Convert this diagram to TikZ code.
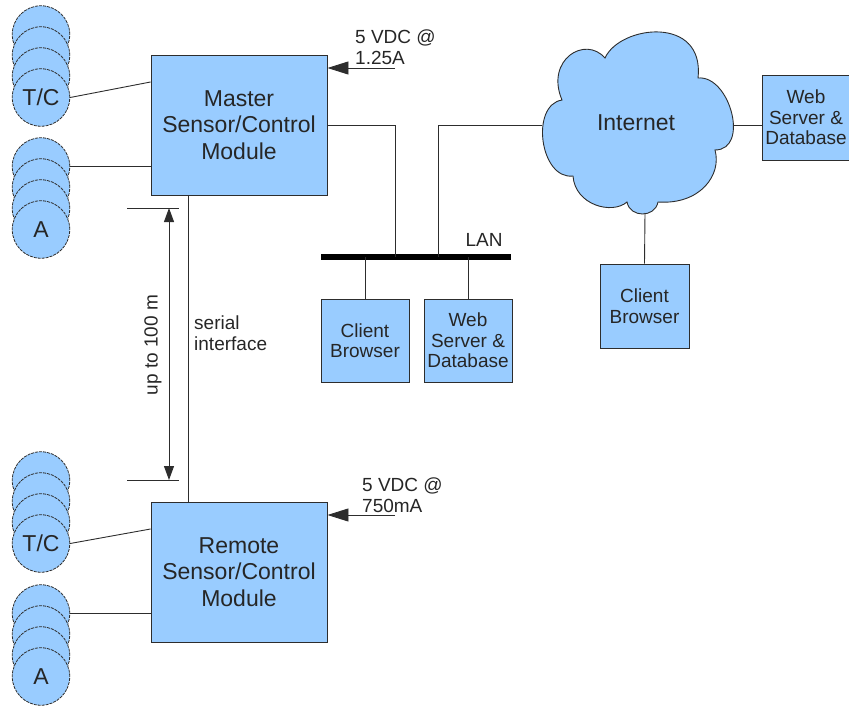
\documentclass[tikz,border=0pt]{standalone}
\usepackage{fontspec}
\setmainfont{Liberation Sans}
\usetikzlibrary{arrows.meta,calc}
\definecolor{fillblue}{RGB}{153,204,255}
\definecolor{linegray}{RGB}{45,45,45}
\begin{document}
\begin{tikzpicture}[x=1pt,y=-1pt,
  box/.style={draw=linegray, fill=fillblue, line width=0.9pt, inner sep=0pt, align=center, text=black!85},
  disk/.style={circle, draw=linegray, fill=fillblue, line width=0.8pt, dash pattern=on 3pt off 1pt, minimum size=57.5pt, inner sep=0pt, text=black!85, font=\fontsize{23}{26}\selectfont},
  wire/.style={draw=linegray, line width=0.9pt},
  big/.style={font=\fontsize{23}{26.5}\selectfont},
  small/.style={font=\fontsize{19}{20.5}\selectfont},
  lbl/.style={text=black!85, inner sep=0pt},
  pwtip/.style={-{Triangle[length=21pt,width=13pt]}},
  dimtip/.style={{Triangle[length=14pt,width=10pt]}-{Triangle[length=14pt,width=10pt]}}
]
\useasboundingbox (0,0) rectangle (849,706);

% ---- sensor stacks ----
\node[disk] (tc1-1) at (41,34.5) {};
\node[disk] (tc1-2) at (41,55.5) {};
\node[disk] (tc1-3) at (41,76.5) {};
\node[disk] (tc1-4) at (41,97.5) {T/C};
\node[disk] (a1-1) at (41,166.5) {};
\node[disk] (a1-2) at (41,187.5) {};
\node[disk] (a1-3) at (41,208.5) {};
\node[disk] (a1-4) at (41,229.5) {A};
\node[disk] (tc2-1) at (41,480.5) {};
\node[disk] (tc2-2) at (41,501.5) {};
\node[disk] (tc2-3) at (41,522.5) {};
\node[disk] (tc2-4) at (41,543.5) {T/C};
\node[disk] (a2-1) at (41,613.5) {};
\node[disk] (a2-2) at (41,634.5) {};
\node[disk] (a2-3) at (41,655.5) {};
\node[disk] (a2-4) at (41,676.5) {A};

% ---- modules ----
\node[box, big, minimum width=176pt, minimum height=140pt] (master) at (239,125) {Master\\Sensor/Control\\Module};
\node[box, big, minimum width=176pt, minimum height=140pt] (remote) at (239,572) {Remote\\Sensor/Control\\Module};

% ---- LAN boxes ----
\node[box, small, minimum width=88pt, minimum height=83pt] (cb1) at (365,340.5) {Client\\Browser};
\node[box, small, minimum width=88pt, minimum height=83pt] (ws1) at (468,340.5) {Web\\Server \&\\Database};
\node[box, small, minimum width=89pt, minimum height=84pt] (cb2) at (644.5,306) {Client\\Browser};
\node[box, small, minimum width=88pt, minimum height=85pt] (ws2) at (806,117.5) {Web\\Server \&\\Database};

% ---- cloud ----
\path[draw=linegray, fill=fillblue, line width=0.9pt]
  (562,100) .. controls (545,60) and (585,35) .. (605,58)
  .. controls (620,25) and (705,15) .. (698,78)
  .. controls (730,75) and (750,150) .. (715,150)
  .. controls (722,175) and (700,205) .. (658,202)
  .. controls (655,218) and (630,218) .. (627,202)
  .. controls (612,215) and (575,205) .. (573,176)
  .. controls (540,180) and (530,105) .. cycle;
\node[lbl, big] (inet) at (636,123) {Internet};
\coordinate (cloudL) at (542,125);
\coordinate (cloudR) at (733,125);
\coordinate (cloudB) at (645,213);

% ---- LAN bar ----
\coordinate (lanL) at (321,257);
\coordinate (lanR) at (511,257);
\draw[draw=black, line width=6pt] (lanL) -- (lanR);
\node[lbl, small] (lanlbl) at (484,240) {LAN};
\coordinate (lanA) at (395,257);
\coordinate (lanB) at (438,257);

% ---- connectors ----
\draw[wire] (tc1-4.east) -- ([yshift=43pt]master.west);
\draw[wire] (a1-1.east) -- (a1-1.east -| master.west);
\draw[wire] (tc2-4.east) -- ([yshift=43pt]remote.west);
\draw[wire] (a2-1.east) -- (a2-1.east -| remote.west);
\draw[wire] ([xshift=-51pt]master.south) -- ([xshift=-51pt]remote.north);
\draw[wire] (master.east) -| (lanA);
\draw[wire] (lanB) |- (cloudL);
\draw[wire] (cb1.north) -- (cb1.north |- lanL);
\draw[wire] (ws1.north) -- (ws1.north |- lanL);
\draw[wire] (cloudR) -- (cloudR -| ws2.west);
\draw[wire] (cloudB) -- (cb2.north);

% ---- power ----
\coordinate (pw1) at (395,68);
\draw[wire, pwtip] (pw1) -- (pw1 -| master.east);
\node[lbl, small, align=left, anchor=west] (pw1lbl) at (355,47) {5 VDC @\\1.25A};
\coordinate (pw2) at (395,515);
\draw[wire, pwtip] (pw2) -- (pw2 -| remote.east);
\node[lbl, small, align=left, anchor=west] (pw2lbl) at (362,495) {5 VDC @\\750mA};

% ---- dimension ----
\coordinate (dimT) at (169,208);
\coordinate (dimB) at (169,480);
\draw[wire] (127,208) -- (179,208);
\draw[wire] (127,480) -- (179,480);
\draw[wire, dimtip] (dimT) -- (dimB);
\node[lbl, small, rotate=90] (dimlbl) at (153,345) {up to 100 m};
\node[lbl, small, align=left, anchor=west] (serlbl) at (194,333) {serial\\interface};
\end{tikzpicture}
\end{document}
